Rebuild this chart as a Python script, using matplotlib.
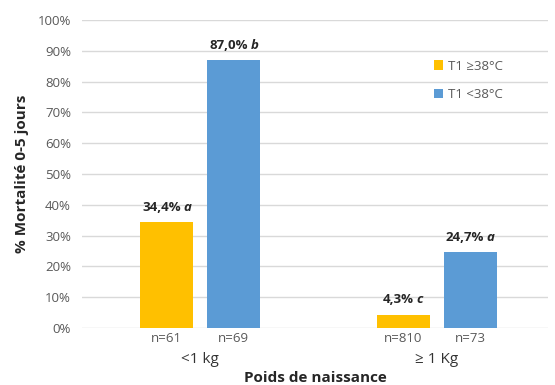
import numpy as np
import matplotlib.pyplot as plt
from matplotlib.offsetbox import TextArea, HPacker, AnnotationBbox
from matplotlib.ticker import PercentFormatter

plt.rcParams['font.family'] = ['Open Sans', 'DejaVu Sans']

categories = ["<1 kg", "\u2265 1 Kg"]
hot = [34.4, 4.3]
cold = [87.0, 24.7]
n_hot = [61, 810]
n_cold = [69, 73]
let_hot = ["a", "c"]
let_cold = ["b", "a"]
series = ["T1 \u226538\u00b0C", "T1 <38\u00b0C"]

yellow = "#FFC000"
blue = "#5B9BD5"
grey = "#595959"

fig = plt.figure(figsize=(5.55, 3.85), dpi=100)
ax = fig.add_axes([0.148, 0.148, 0.839, 0.8])

x = np.arange(len(categories))
w = 0.224
off = 0.142
ax.bar(x - off, hot, w, color=yellow, label=series[0], zorder=3)
ax.bar(x + off, cold, w, color=blue, label=series[1], zorder=3)

ax.set_ylim(0, 100)
ax.set_xlim(-0.5, 1.47)
ax.set_yticks(np.arange(0, 101, 10))
ax.yaxis.set_major_formatter(PercentFormatter(decimals=0))
ax.grid(axis="y", color="#d9d9d9", linewidth=1, zorder=0)
for s in ax.spines.values():
    s.set_visible(False)
ax.tick_params(axis="both", length=0, labelsize=9.5, labelcolor=grey)
ax.tick_params(axis="y", pad=8)

# n labels under bars, category labels below
pos = list(x - off) + list(x + off)
labs = [f"n={n}" for n in n_hot] + [f"n={n}" for n in n_cold]
ax.set_xticks(pos)
ax.set_xticklabels(labs)
ax.tick_params(axis="x", pad=3)
ax.set_xticks(x, minor=True)
ax.set_xticklabels(categories, minor=True, fontsize=11, color="#333333")
ax.tick_params(axis="x", which="minor", length=0, pad=17)

ax.set_ylabel("% Mortalit\u00e9 0-5 jours", fontsize=11, fontweight="bold",
              color="#262626", labelpad=6)
ax.set_xlabel("Poids de naissance", fontsize=11, fontweight="bold",
              color="#262626", labelpad=3)

def add_label(xp, val, letter):
    t1 = TextArea(f"{val:.1f}%".replace(".", ","),
                  textprops=dict(fontsize=9.5, fontweight="bold", color="#262626"))
    t2 = TextArea(letter, textprops=dict(fontsize=9.5, fontweight="bold",
                                         style="italic", color="#262626"))
    box = HPacker(children=[t1, t2], pad=0, sep=2, align="baseline")
    ab = AnnotationBbox(box, (xp, val), xybox=(0, 6), xycoords="data",
                        boxcoords="offset points", box_alignment=(0.5, 0),
                        frameon=False)
    ax.add_artist(ab)

for i in range(len(categories)):
    add_label(x[i] - off, hot[i], let_hot[i])
    add_label(x[i] + off, cold[i], let_cold[i])

ax.legend(loc="upper right", bbox_to_anchor=(0.93, 0.91), frameon=False,
          fontsize=9.5, labelcolor=grey, handlelength=0.7, handleheight=0.7,
          handletextpad=0.4, labelspacing=1.2)

fig.savefig("out.png", dpi=100)
